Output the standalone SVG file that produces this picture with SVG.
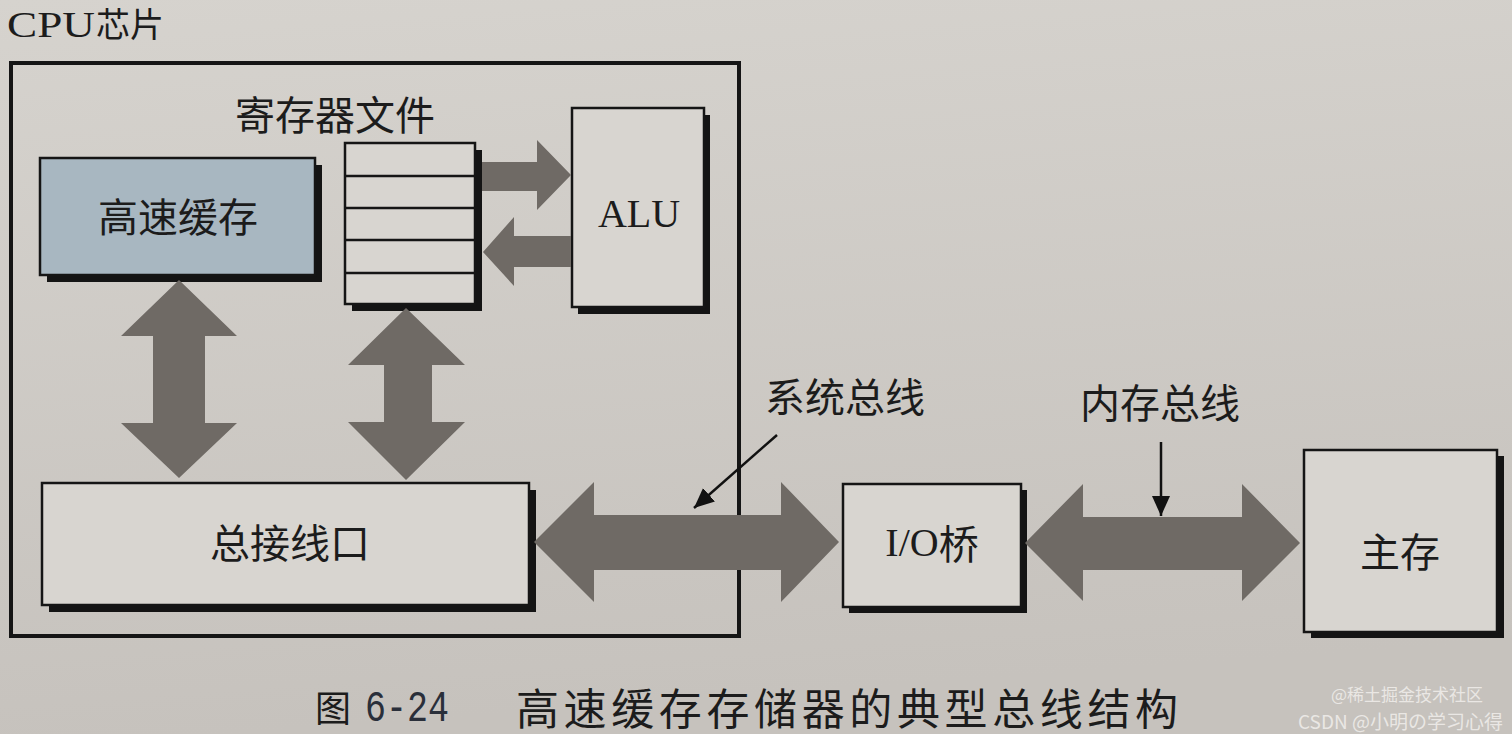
<svg xmlns="http://www.w3.org/2000/svg" width="1512" height="734" viewBox="0 0 1512 734">
<defs>
<linearGradient id="bg" x1="0" y1="0" x2="0.15" y2="1">
<stop offset="0" stop-color="#d6d3ce"/>
<stop offset="1" stop-color="#c6c2bd"/>
</linearGradient>
<marker id="tri" markerUnits="userSpaceOnUse" markerWidth="24" markerHeight="20" refX="20" refY="9" orient="auto" viewBox="0 0 24 20">
<path d="M0,0 L20,9 L0,18 Z" fill="#111"/>
</marker>
<style>
.shadow{fill:#141414}
.box{fill:#d8d5d0;stroke:#151515;stroke-width:2.5}
.cache{fill:#a8b7c1;stroke:#151515;stroke-width:2.5}
.bus{fill:#6f6a65}
.ptr{stroke:#111;stroke-width:2.5;fill:none;marker-end:url(#tri)}
.cjk{font-family:"Noto Sans CJK SC","Noto Sans",sans-serif;fill:#1c1c1c}
.ser{font-family:"Liberation Serif","Noto Sans CJK SC",serif;fill:#1c1c1c}
.lbl{font-size:40px;text-anchor:middle;dominant-baseline:central}
</style>
</defs>
<rect x="0" y="0" width="1512" height="734" fill="url(#bg)"/>

<g id="cpu-chip">
<text x="7" y="37" class="ser" font-size="35"><tspan textLength="88" lengthAdjust="spacingAndGlyphs">CPU</tspan><tspan class="cjk" font-size="34" x="96">芯片</tspan></text>
<rect x="11" y="63" width="728" height="573" fill="none" stroke="#151515" stroke-width="4"/>
</g>

<g id="cache">
<rect class="shadow" x="47" y="165" width="275" height="117"/>
<rect class="cache" x="40" y="158" width="275" height="117"/>
<text class="cjk lbl" x="178" y="215">高速缓存</text>
</g>

<g id="register-file">
<text class="cjk" x="335" y="113" font-size="40" text-anchor="middle" dominant-baseline="central">寄存器文件</text>
<rect class="shadow" x="352" y="150" width="130" height="161"/>
<rect class="box" x="345" y="143" width="130" height="161"/>
<path d="M345,176 H475 M345,208 H475 M345,240 H475 M345,273 H475" stroke="#151515" stroke-width="2.5"/>
</g>

<g id="alu">
<rect class="shadow" x="578" y="115" width="132" height="199"/>
<rect class="box" x="572" y="108" width="132" height="199"/>
<text class="ser lbl" x="639" y="213">ALU</text>
</g>

<g id="bus-interface">
<rect class="shadow" x="49" y="490" width="487" height="122"/>
<rect class="box" x="42" y="483" width="487" height="122"/>
<text class="cjk lbl" x="290" y="541">总接线口</text>
</g>

<g id="io-bridge">
<rect class="shadow" x="849" y="490" width="178" height="123"/>
<rect class="box" x="843" y="484" width="178" height="123"/>
<text class="ser lbl" x="932" y="542">I/O<tspan class="cjk">桥</tspan></text>
</g>

<g id="main-memory">
<rect class="shadow" x="1311" y="456" width="193" height="182"/>
<rect class="box" x="1304" y="450" width="193" height="182"/>
<text class="cjk lbl" x="1400" y="550">主存</text>
</g>

<g id="connectors">
<polygon class="bus" points="179,280 237,336 205,336 205,423 237,423 179,478 121,423 153,423 153,336 121,336"/>
<polygon class="bus" points="406,308 465,365 432,365 432,422 465,422 406,480 348,422 384,422 384,365 348,365"/>
<polygon class="bus" points="482,162 537,162 537,140 571,175 537,210 537,191 482,191"/>
<polygon class="bus" points="483,252 514,217 514,236 571,236 571,267 514,267 514,286"/>
<polygon class="bus" points="534,542 594,482 594,515 781,515 781,482 839,542 781,602 781,570 594,570 594,602"/>
<polygon class="bus" points="1025,543 1083,484 1083,517 1242,517 1242,484 1300,543 1242,601 1242,570 1083,570 1083,601"/>
<line class="ptr" x1="777" y1="435" x2="694" y2="508"/>
<line class="ptr" x1="1161" y1="442" x2="1161" y2="516"/>
<text class="cjk lbl" x="845" y="395" font-size="41">系统总线</text>
<text class="cjk lbl" x="1160" y="401" font-size="41">内存总线</text>
</g>

<g id="caption">
<text class="cjk" x="315" y="706" font-size="36" dominant-baseline="central" fill="#2a2f3a">图</text>
<text x="365" y="721" font-family="Liberation Mono, monospace" font-size="44" fill="#2a2f3a" textLength="84" lengthAdjust="spacingAndGlyphs">6-24</text>
<text class="cjk" x="516" y="706" font-size="43" dominant-baseline="central" textLength="662" lengthAdjust="spacing">高速缓存存储器的典型总线结构</text>
</g>

<g id="watermark" font-family="Noto Sans CJK SC, Noto Sans, sans-serif" fill="#f1efec" fill-opacity="0.85">
<text x="1331" y="693" font-size="17" dominant-baseline="central">@稀土掘金技术社区</text>
<text x="1298" y="720" font-size="19" dominant-baseline="central">CSDN @小明の学习心得</text>
</g>
</svg>
